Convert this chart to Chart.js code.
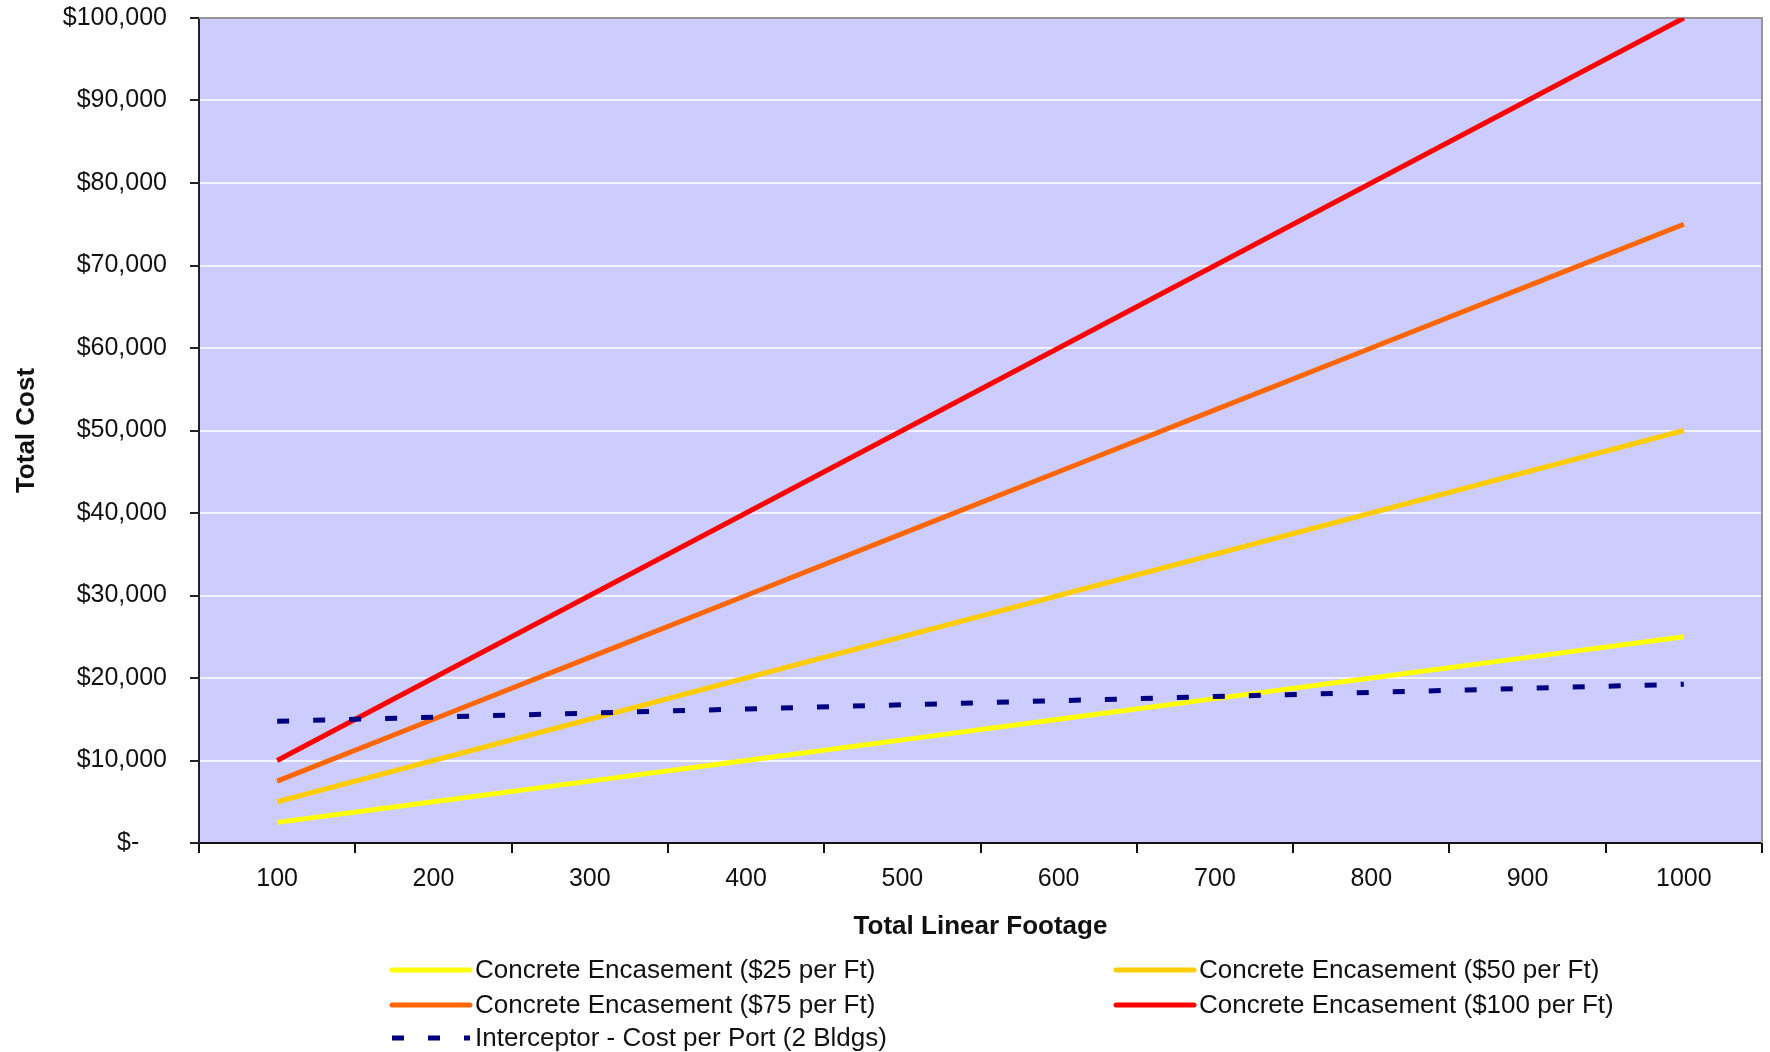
<!DOCTYPE html>
<html>
<head>
<meta charset="utf-8">
<title>Total Cost vs Total Linear Footage</title>
<script src="https://cdn.jsdelivr.net/npm/chart.js@4.4.0/dist/chart.umd.min.js"></script>
<style>
  html, body { margin: 0; padding: 0; background: #ffffff; }
  #wrap { width: 1770px; height: 1052px; position: relative; }
</style>
</head>
<body>
<div id="wrap"><canvas id="chart" width="1770" height="1052"></canvas></div>
<script>
// Categories (total linear footage)
const footage = ['100', '200', '300', '400', '500', '600', '700', '800', '900', '1000'];

// Series values (total cost, $)
const concrete25  = [2500, 5000, 7500, 10000, 12500, 15000, 17500, 20000, 22500, 25000];
const concrete50  = [5000, 10000, 15000, 20000, 25000, 30000, 35000, 40000, 45000, 50000];
const concrete75  = [7500, 15000, 22500, 30000, 37500, 45000, 52500, 60000, 67500, 75000];
const concrete100 = [10000, 20000, 30000, 40000, 50000, 60000, 70000, 80000, 90000, 100000];
const interceptor = [14750, 15250, 15750, 16250, 16750, 17250, 17750, 18250, 18750, 19250];

// Series names
const seriesNames = [
  'Concrete Encasement ($25 per Ft)',
  'Concrete Encasement ($50 per Ft)',
  'Concrete Encasement ($75 per Ft)',
  'Concrete Encasement ($100 per Ft)',
  'Interceptor - Cost per Port (2 Bldgs)'
];

// Y-axis tick labels (accounting style; zero shows as a dash)
const yTickLabels = ['$-    ', '$10,000', '$20,000', '$30,000', '$40,000', '$50,000',
                     '$60,000', '$70,000', '$80,000', '$90,000', '$100,000'];

const FONT = '"Liberation Sans", Arial, Helvetica, sans-serif';
const TEXT = '#111111';

// Plot background and the grey frame on top/right
const plotFrame = {
  id: 'plotFrame',
  beforeDraw(chart) {
    const { ctx, chartArea: a } = chart;
    ctx.save();
    ctx.fillStyle = '#CCCCFF';
    ctx.fillRect(a.left, a.top, a.right - a.left, a.bottom - a.top);
    ctx.restore();
  },
  beforeDatasetsDraw(chart) {
    const { ctx, chartArea: a } = chart;
    ctx.save();
    ctx.strokeStyle = '#969696';
    ctx.lineWidth = 2;
    ctx.beginPath();
    ctx.moveTo(a.left, a.top);
    ctx.lineTo(a.right, a.top);
    ctx.lineTo(a.right, a.bottom);
    ctx.stroke();
    ctx.restore();
  }
};

// Two-column legend under the axis title
const gridLegend = {
  id: 'gridLegend',
  afterDraw(chart) {
    const { ctx } = chart;
    const slots = [
      { x: 392, y: 970 }, { x: 1116, y: 970 },
      { x: 392, y: 1005 }, { x: 1116, y: 1005 },
      { x: 392, y: 1038 }
    ];
    const sampleLen = 78;
    ctx.save();
    ctx.font = '26px ' + FONT;
    ctx.textBaseline = 'middle';
    ctx.textAlign = 'left';
    chart.data.datasets.forEach((ds, i) => {
      const s = slots[i];
      if (!s) return;
      ctx.save();
      ctx.strokeStyle = ds.borderColor;
      ctx.lineWidth = ds.borderWidth;
      if (ds.borderDash && ds.borderDash.length) {
        ctx.setLineDash(ds.borderDash);
        ctx.lineCap = 'butt';
      } else {
        ctx.lineCap = 'round';
      }
      ctx.beginPath();
      ctx.moveTo(s.x, s.y);
      ctx.lineTo(s.x + sampleLen, s.y);
      ctx.stroke();
      ctx.restore();
      ctx.fillStyle = TEXT;
      ctx.fillText(ds.label, s.x + sampleLen + 5, s.y + 1);
    });
    ctx.restore();
  }
};

const lineDefaults = { pointRadius: 0, pointHoverRadius: 0, tension: 0, borderWidth: 5, fill: false };

new Chart(document.getElementById('chart'), {
  type: 'line',
  data: {
    labels: footage,
    datasets: [
      { ...lineDefaults, label: seriesNames[0], data: concrete25,  borderColor: '#FFFF00', order: 1 },
      { ...lineDefaults, label: seriesNames[1], data: concrete50,  borderColor: '#FFCC00', order: 2 },
      { ...lineDefaults, label: seriesNames[2], data: concrete75,  borderColor: '#FF6600', order: 3 },
      { ...lineDefaults, label: seriesNames[3], data: concrete100, borderColor: '#FF0000', order: 4 },
      { ...lineDefaults, label: seriesNames[4], data: interceptor, borderColor: '#000080',
        borderDash: [12, 24], borderCapStyle: 'butt', order: 0 }
    ]
  },
  options: {
    responsive: false,
    animation: false,
    devicePixelRatio: 1,
    layout: { padding: { left: 0, top: 18, right: 8, bottom: 110 } },
    plugins: {
      legend: { display: false },
      tooltip: { enabled: false },
      title: { display: false }
    },
    scales: {
      x: {
        type: 'category',
        offset: true,
        grid: {
          offset: true,
          drawOnChartArea: false,
          drawTicks: true,
          tickLength: 10,
          tickWidth: 2,
          tickColor: '#111111',
          lineWidth: 2
        },
        border: { display: true, color: '#111111', width: 2 },
        ticks: {
          color: TEXT,
          padding: 11,
          maxRotation: 0,
          autoSkip: false,
          font: { family: FONT, size: 25 }
        },
        title: {
          display: true,
          text: 'Total Linear Footage',
          color: TEXT,
          font: { family: FONT, size: 26, weight: 'bold' },
          padding: { top: 0, bottom: 0 }
        },
        afterFit(scale) {
          scale.height = 99;
          scale.paddingLeft = 0;
          scale.paddingRight = 0;
        }
      },
      y: {
        min: 0,
        max: 100000,
        grid: {
          color: (c) => (c.tick && (c.tick.value === 0 || c.tick.value === 100000)) ? 'rgba(0,0,0,0)' : '#F4F4FF',
          lineWidth: 2,
          drawTicks: true,
          tickLength: 9,
          tickWidth: 2,
          tickColor: '#222222'
        },
        border: { display: true, color: '#222222', width: 2 },
        ticks: {
          stepSize: 10000,
          color: TEXT,
          padding: 23,
          font: { family: FONT, size: 25 },
          callback: (v, i) => yTickLabels[i]
        },
        title: {
          display: true,
          text: 'Total Cost',
          color: TEXT,
          font: { family: FONT, size: 26, weight: 'bold' },
          padding: { top: 11, bottom: 0 }
        },
        afterFit(scale) {
          scale.width = 199;
          scale.paddingTop = 0;
          scale.paddingBottom = 0;
        }
      }
    }
  },
  plugins: [plotFrame, gridLegend]
});
</script>
</body>
</html>
